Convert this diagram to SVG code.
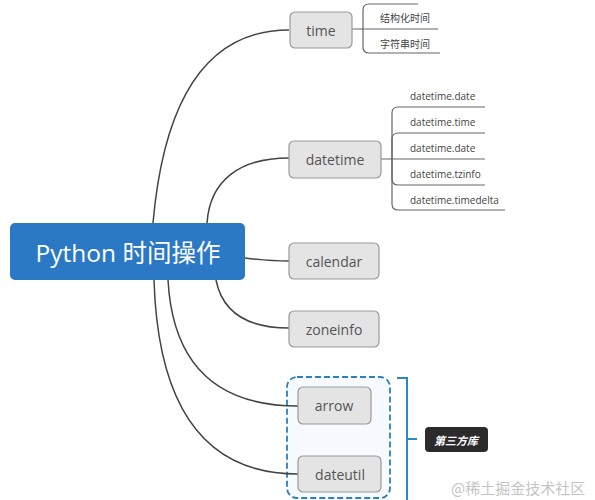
<svg xmlns="http://www.w3.org/2000/svg" width="595" height="500" viewBox="0 0 595 500">
<style>
.node rect{fill:#e4e4e4;stroke:#9a9a9a;stroke-width:1.2}
.node text{font-family:"Open Sans","Noto Sans",sans-serif;font-size:14px;fill:#555;text-anchor:middle;dominant-baseline:central}
.sub{font-family:"Open Sans","Noto Sans","Noto Sans CJK SC",sans-serif;font-size:10px;fill:#444}
.conn path{fill:none;stroke:#444;stroke-width:1.5}
.conn path.thin{stroke:#666;stroke-width:1.2}
.br{fill:none;stroke:#666;stroke-width:1.2}
</style>
<rect width="595" height="500" fill="#ffffff"/>
<g id="group-third-party">
<rect x="287" y="377" width="103" height="121" rx="10" fill="#f6f9fd" stroke="#2b7fc0" stroke-width="1.8" stroke-dasharray="6 3"/>
<path d="M397 378 H407 V500 M407 439 H417" fill="none" stroke="#2b88c8" stroke-width="2"/>
</g>
<g class="conn" id="connectors">
<path d="M153 223 Q170 30 289 30"/>
<path d="M207 223 C210 180 240 158 289 158"/>
<path d="M245 258 Q270 261 289 261"/>
<path d="M216 280 C222 310 245 328 289 328"/>
<path d="M168 280 Q175 406 298 406"/>
<path d="M154 280 Q160 474 298 474"/>
<path class="thin" d="M352 29 H438"/>
<path class="thin" d="M381 159 H485"/>
</g>
<g id="root">
<rect x="10" y="223" width="235" height="57" rx="5" fill="#2b78c5"/>
<text x="128" y="252" font-family="'Open Sans','Noto Sans CJK SC',sans-serif" font-size="24.5" fill="#ffffff" text-anchor="middle" dominant-baseline="central">Python 时间操作</text>
</g>
<g class="node" id="time"><rect x="290" y="12" width="62" height="36" rx="5"/><text x="321" y="30">time</text></g>
<g class="node" id="datetime"><rect x="289" y="141" width="92" height="37" rx="5"/><text x="335" y="159">datetime</text></g>
<g class="node" id="calendar"><rect x="289" y="243" width="90" height="36" rx="5"/><text x="334" y="261">calendar</text></g>
<g class="node" id="zoneinfo"><rect x="289" y="311" width="90" height="36" rx="5"/><text x="334" y="329">zoneinfo</text></g>
<g class="node" id="arrow"><rect x="298" y="387" width="73" height="37" rx="5"/><text x="334" y="405">arrow</text></g>
<g class="node" id="dateutil"><rect x="298" y="456" width="83" height="36" rx="5"/><text x="340" y="474">dateutil</text></g>
<g id="time-subs">
<path class="br" d="M418 4 H369 Q363 4 363 10 V47 Q363 53 369 53 H440"/>
<text class="sub" x="380" y="22">结构化时间</text>
<text class="sub" x="380" y="48">字符串时间</text>
</g>
<g id="datetime-subs">
<path class="br" d="M485 107 H398 Q392 107 392 113 V204 Q392 210 398 210 H505"/>
<path class="br" d="M485 133 H398 Q392 133 392 139 V179 Q392 185 398 185 H485"/>
<text class="sub" x="410" y="100">datetime.date</text>
<text class="sub" x="410" y="126">datetime.time</text>
<text class="sub" x="410" y="152">datetime.date</text>
<text class="sub" x="410" y="178">datetime.tzinfo</text>
<text class="sub" x="410" y="204">datetime.timedelta</text>
</g>
<g id="label-third-party">
<rect x="425" y="427" width="63" height="25" rx="4" fill="#2b2b2b"/>
<text x="456" y="440" font-family="'Noto Sans CJK SC',sans-serif" font-size="11" font-style="italic" font-weight="bold" fill="#ffffff" text-anchor="middle" dominant-baseline="central">第三方库</text>
</g>
<text x="451" y="494" font-family="'Noto Sans CJK SC',sans-serif" font-size="15" fill="#c4c4c4">@稀土掘金技术社区</text>
</svg>
